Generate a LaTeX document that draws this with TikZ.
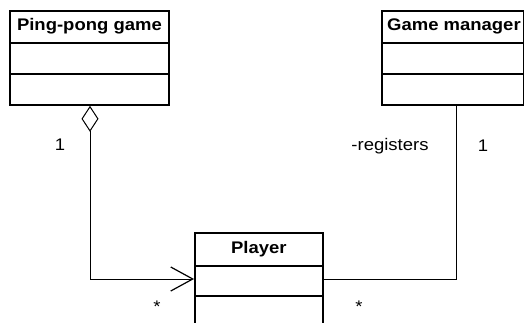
\documentclass[tikz,border=0pt]{standalone}
\usepackage{fontspec}
\setmainfont{Liberation Sans}[FakeStretch=1.1]
\usetikzlibrary{arrows.meta}
\begin{document}
\begin{tikzpicture}[x=1pt,y=-1pt,
  classbox/.style={draw, line width=1.8pt, inner sep=0pt, anchor=north west},
  sep/.style={line width=1.8pt},
  title/.style={font=\bfseries\fontsize{16.8}{20}\selectfont, inner sep=0pt},
  lbl/.style={font=\fontsize{16.8}{20}\selectfont, inner sep=0pt},
  assoc/.style={line width=1pt}]
\useasboundingbox (0,0) rectangle (524,323);
\clip (0,0) rectangle (524,323);

% Class boxes
\node[classbox, minimum width=159pt, minimum height=94pt] (ping) at (9,10) {};
\node[classbox, minimum width=142pt, minimum height=94pt] (game) at (381,10) {};
\node[classbox, minimum width=128pt, minimum height=110pt] (player) at (194,232) {};

% Compartment separators
\foreach \c in {ping, game} {
  \draw[sep] ([yshift=-33pt]\c.north west) -- ([yshift=-33pt]\c.north east);
  \draw[sep] ([yshift=-64pt]\c.north west) -- ([yshift=-64pt]\c.north east);
}
\draw[sep] ([yshift=-34pt]player.north west) -- ([yshift=-34pt]player.north east);
\draw[sep] ([yshift=-64pt]player.north west) -- ([yshift=-64pt]player.north east);

% Class names
\node[title] at ([yshift=-16.5pt]ping.north) {Ping-pong game};
\node[title, anchor=west] at ([xshift=6pt,yshift=-16.5pt]game.north west) {Game manager};
\node[title] at ([yshift=-17pt]player.north) {Player};

% Associations
\draw[assoc, {Diamond[open,length=26pt,width=17pt,line width=1pt]}-{Straight Barb[length=22pt,width=24pt,line width=1.2pt]}]
  ([xshift=81pt]ping.south west) |- ([yshift=-47pt]player.north west);
\draw[assoc]
  ([xshift=75pt]game.south west) |- ([yshift=-47pt]player.north east);

% Multiplicities and role
\node[lbl] (m1) at (60,145) {1};
\node[lbl] (role) at (390,146) {-registers};
\node[lbl] (m2) at (483,146) {1};
\node[lbl] (s1) at (157,307) {*};
\node[lbl] (s2) at (359,307) {*};
\end{tikzpicture}
\end{document}
